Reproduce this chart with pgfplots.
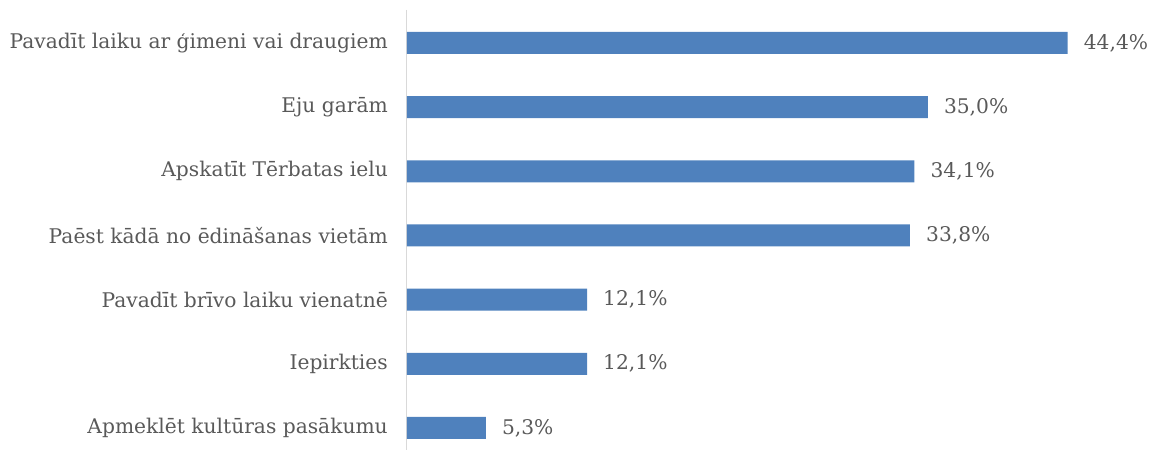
\documentclass[border=0pt]{standalone}
\usepackage{fontspec}
\setmainfont{DejaVu Serif}
\usepackage{pgfplots}
\pgfplotsset{compat=1.18}
\definecolor{barblue}{HTML}{4F81BD}
\definecolor{txt}{HTML}{595959}
\definecolor{axgray}{HTML}{D9D9D9}
\begin{document}
\begin{tikzpicture}
\begin{axis}[name=ax, scale only axis, width=744bp, height=440bp,
  xbar, bar width=22bp, xmin=0, xmax=50, ymin=-0.514, ymax=6.343, y dir=reverse,
  axis x line=none, axis y line=left, y axis line style={draw=axgray, line width=1pt, -},
  ytick={0,1,2,3,4,5,6},
  yticklabels={Pavadīt laiku ar ģimeni vai draugiem, Eju garām, Apskatīt Tērbatas ielu, Paēst kādā no ēdināšanas vietām, Pavadīt brīvo laiku vienatnē, Iepirkties, Apmeklēt kultūras pasākumu},
  major tick length=0pt,
  yticklabel style={font=\fontsize{20.3}{23}\selectfont, text=txt, inner sep=0pt, xshift=-19bp},
  point meta=x,
  nodes near coords={\pgfmathprintnumber[fixed,fixed zerofill,precision=1,use comma,assume math mode=true]{\pgfplotspointmeta}\%},
  nodes near coords style={anchor=west, inner sep=0pt, xshift=16bp, text=txt, font=\fontsize{20.3}{23}\selectfont},
  clip=false]
\addplot[fill=barblue, draw=none] coordinates {(44.4,0) (35.0,1) (34.1,2) (33.8,3) (12.1,4) (12.1,5) (5.3,6)};
\end{axis}
\pgfresetboundingbox
\path[use as bounding box] ([xshift=-407bp]ax.south west) rectangle ([yshift=10bp]ax.north east);
\end{tikzpicture}
\end{document}
